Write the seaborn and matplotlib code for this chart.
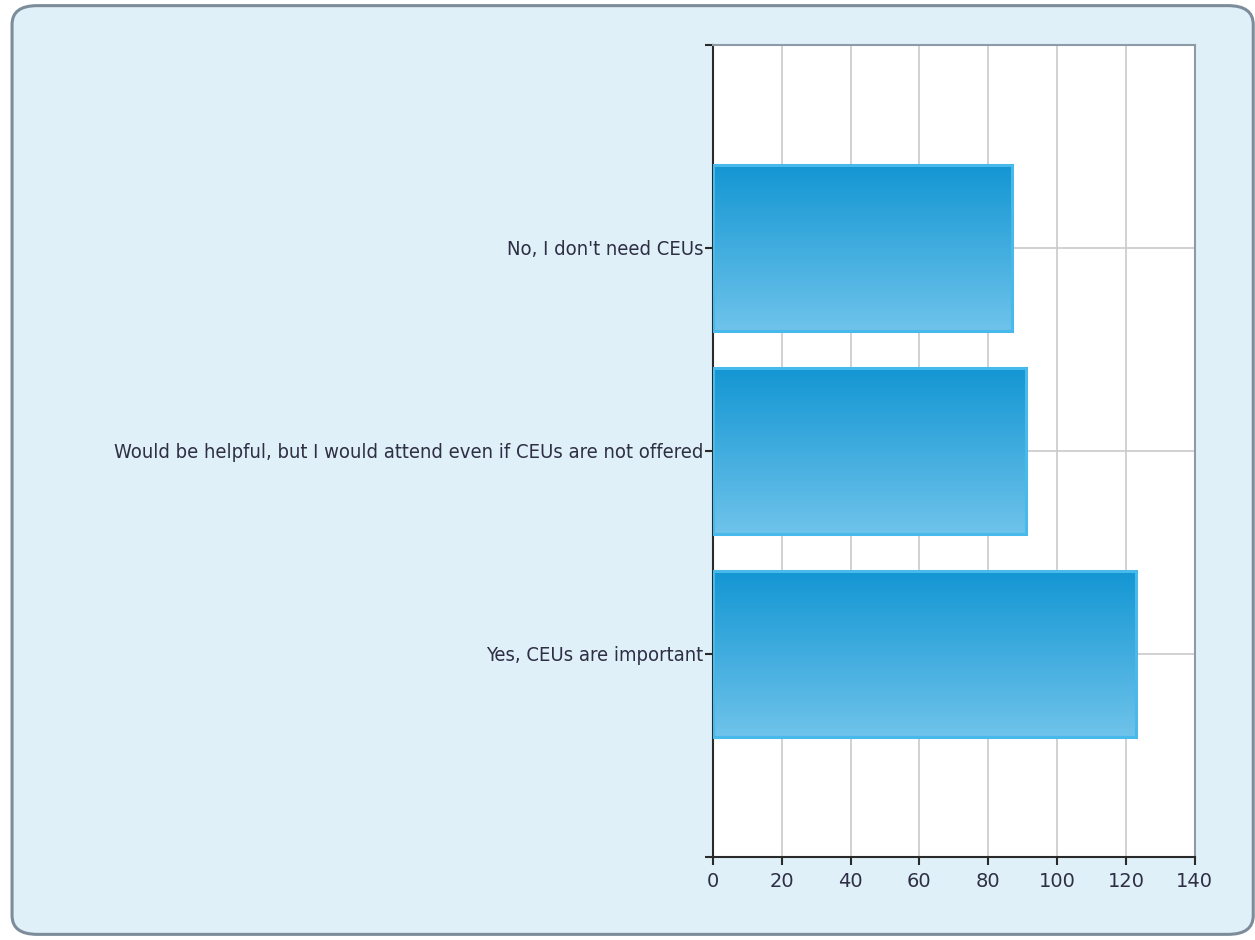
import numpy as np
import pandas as pd
import matplotlib
matplotlib.use('Agg')
import matplotlib.pyplot as plt
import seaborn as sns
from matplotlib.colors import LinearSegmentedColormap
from matplotlib.patches import FancyBboxPatch

# Data
categories = [
    "No, I don't need CEUs",
    "Would be helpful, but I would attend even if CEUs are not offered",
    "Yes, CEUs are important",
]
counts = [87, 91, 123]
x_ticks = [0, 20, 40, 60, 80, 100, 120, 140]

df = pd.DataFrame({'Answer': categories, 'Count': counts})

sns.set_style('white')
plt.rcParams['font.family'] = ['DejaVu Sans']

fig = plt.figure(figsize=(12.55, 9.4), dpi=100)
fig.patch.set_facecolor('white')

# light blue rounded panel behind everything
panel = FancyBboxPatch((0.0096, 0.006), 0.989, 0.988,
                       boxstyle='round,pad=0,rounding_size=0.02',
                       transform=fig.transFigure, facecolor='#dff0f9',
                       edgecolor='#7d8c9a', linewidth=2.2, zorder=0)
fig.add_artist(panel)

ax = fig.add_axes([0.568, 0.0883, 0.384, 0.864])
ax.set_facecolor('white')
ax.set_zorder(2)

sns.barplot(data=df, x='Count', y='Answer', orient='h', width=0.82,
            color='#2ba3dc', ax=ax, zorder=3)

# gradient fill inside each bar
cmap = LinearSegmentedColormap.from_list('bar', ['#1396d3', '#6ec3ea'])
grad = np.linspace(0, 1, 256).reshape(-1, 1)
for p in list(ax.patches):
    b = p.get_bbox()
    im = ax.imshow(grad, extent=(b.x0, b.x1, b.y1, b.y0), cmap=cmap,
                   aspect='auto', zorder=3, interpolation='bilinear')
    im.set_clip_path(p)
    p.set_facecolor('none')
    p.set_edgecolor('#47b9ea')
    p.set_linewidth(2.2)
    p.set_zorder(4)

ax.set_xlim(0, 140)
ax.set_ylim(3, -1)
ax.set_xticks(x_ticks)
ax.set_xticklabels([str(t) for t in x_ticks], fontsize=14, color='#2e2e44')
ax.set_yticks([-1, 0, 1, 2, 3])
ax.set_yticklabels([''] + categories + [''], fontsize=14.5, color='#2e2e44',
                   fontstretch='condensed')
ax.set_xlabel('')
ax.set_ylabel('')

ax.grid(True, color='#cacaca', linewidth=1.2, zorder=1)
ax.set_axisbelow(True)
ax.tick_params(axis='both', which='both', direction='out', length=6,
               width=1.5, color='#2a2a2a', bottom=True, left=True)
ax.tick_params(axis='x', pad=5)
ax.tick_params(axis='y', pad=1)

for side in ['left', 'bottom']:
    ax.spines[side].set_color('#2a2a2a')
    ax.spines[side].set_linewidth(1.5)
for side in ['top', 'right']:
    ax.spines[side].set_color('#8d9aa8')
    ax.spines[side].set_linewidth(1.5)

fig.savefig('out.png', dpi=100, facecolor=fig.get_facecolor())
